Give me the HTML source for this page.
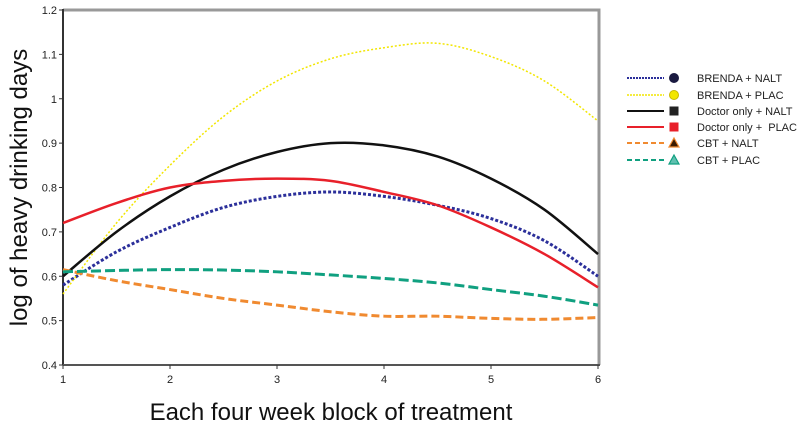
<!DOCTYPE html>
<html><head><meta charset="utf-8"><style>
body{margin:0;background:#fff;}
svg{display:block;font-family:"Liberation Sans",Arial,sans-serif;}
</style></head><body>
<svg id="chart" width="800" height="430"></svg>
<script>
const xCats=[1,1.5,2,2.5,3,3.5,4,4.5,5,5.5,6];
const brendaNalt=[0.58,0.655,0.71,0.755,0.78,0.79,0.78,0.76,0.73,0.68,0.60];
const brendaPlac=[0.56,0.72,0.85,0.96,1.04,1.09,1.115,1.125,1.095,1.04,0.95];
const doctorNalt=[0.60,0.70,0.78,0.84,0.88,0.90,0.895,0.87,0.82,0.75,0.65];
const doctorPlac=[0.72,0.765,0.80,0.815,0.82,0.815,0.79,0.76,0.71,0.65,0.575];
const cbtNalt=[0.615,0.59,0.57,0.55,0.535,0.52,0.51,0.51,0.505,0.503,0.507];
const cbtPlac=[0.61,0.613,0.615,0.614,0.61,0.603,0.595,0.585,0.57,0.555,0.535];
const yTicks=[0.4,0.5,0.6,0.7,0.8,0.9,1,1.1,1.2];
const xTicks=[1,2,3,4,5,6];
const seriesNames=["BRENDA + NALT","BRENDA + PLAC","Doctor only + NALT","Doctor only +\u00a0 PLAC","CBT + NALT","CBT + PLAC"];

const L=63,R=598,T=10,B=365;
const sx=v=>L+(v-1)/5*(R-L);
const sy=v=>B-(v-0.4)/0.8*(B-T);
const svg=document.getElementById('chart');
const NS='http://www.w3.org/2000/svg';
function mk(tag,at,parent){const e=document.createElementNS(NS,tag);for(const k in at)e.setAttribute(k,at[k]);(parent||svg).appendChild(e);return e;}

let e=mk('path',{d:`M${L},${T}H${R+1}V${B}`,fill:'none',stroke:'#999',"stroke-width":3});


e=mk('line',{x1:L,y1:T-1,x2:L,y2:B,stroke:'#333',"stroke-width":2});


e=mk('line',{x1:L,y1:B,x2:R+2,y2:B,stroke:'#555',"stroke-width":2});



yTicks.forEach(v=>{
  mk('line',{x1:L-4,x2:L,y1:sy(v),y2:sy(v),stroke:'#333'});
  const t=mk('text',{x:L-6,y:sy(v)+4,"text-anchor":"end","font-size":11,fill:'#222'});
  t.textContent=String(v);
  
  
});
xTicks.forEach(v=>{
  mk('line',{x1:sx(v),x2:sx(v),y1:B,y2:B+4,stroke:'#333'});
  const t=mk('text',{x:sx(v),y:B+18,"text-anchor":"middle","font-size":11,fill:'#222'});
  t.textContent=String(v);
  
  
});

e=mk('text',{x:0,y:0,transform:`translate(27,${(T+B)/2}) rotate(-90)`,"text-anchor":"middle","font-size":24,fill:'#111'});
e.textContent='log of heavy drinking days';


e=mk('text',{x:331,y:420,"text-anchor":"middle","font-size":24,fill:'#111'});
e.textContent='Each four week block of treatment';



function smooth(vals){
  const p=vals.map((v,i)=>[sx(xCats[i]),sy(v)]);
  let d=`M${p[0][0]},${p[0][1]}`;
  for(let i=0;i<p.length-1;i++){
    const p0=p[i-1]||p[i],p1=p[i],p2=p[i+1],p3=p[i+2]||p[i+1];
    d+=`C${p1[0]+(p2[0]-p0[0])/6},${p1[1]+(p2[1]-p0[1])/6} ${p2[0]-(p3[0]-p1[0])/6},${p2[1]-(p3[1]-p1[1])/6} ${p2[0]},${p2[1]}`;
  }
  return d;
}
const styles=[
 {c:'#2b2f9a',w:3,da:'3,2',n:'brenda-nalt'},
 {c:'#f2e600',w:1.5,da:'2,2',n:'brenda-plac'},
 {c:'#111',w:2.5,da:'',n:'doctor-nalt'},
 {c:'#e8202a',w:2.5,da:'',n:'doctor-plac'},
 {c:'#f08a30',w:3,da:'8,4',n:'cbt-nalt'},
 {c:'#10a080',w:3,da:'10,4',n:'cbt-plac'}];
const data=[brendaNalt,brendaPlac,doctorNalt,doctorPlac,cbtNalt,cbtPlac];
data.forEach((vals,i)=>{
  const s=styles[i];
  const p=mk('path',{d:smooth(vals),fill:'none',stroke:s.c,"stroke-width":s.w,"stroke-dasharray":s.da});
  
  
});

const markers=['circle','circle','square','square','tri','tri'];
const mfill=['#1a1a40','#f2e600','#222','#e8202a','#3a1a00','#60c0b0'];
const mstroke=['#1a1a40','#c8b800','#222','#e8202a','#f08a30','#10a080'];
const rowsY=[78,95,111,127,143,160];
seriesNames.forEach((name,i)=>{
  const g=mk('g',{});
  
  
  const y=rowsY[i],s=styles[i];
  mk('line',{x1:627,x2:664,y1:y,y2:y,stroke:s.c,"stroke-width":Math.min(s.w,2),"stroke-dasharray":s.da?(i<2?'2,1':'5,3'):''},g);
  if(markers[i]==='circle')mk('circle',{cx:674,cy:y,r:4.5,fill:mfill[i],stroke:mstroke[i]},g);
  else if(markers[i]==='square')mk('rect',{x:669.5,y:y-4.5,width:9,height:9,fill:mfill[i]},g);
  else mk('path',{d:`M674,${y-5}L679,${y+4}L669,${y+4}Z`,fill:mfill[i],stroke:mstroke[i],"stroke-width":1.2},g);
  const t=mk('text',{x:697,y:y+4,"font-size":11,fill:'#222'},g);
  t.textContent=name;
});
</script>
</body></html>
